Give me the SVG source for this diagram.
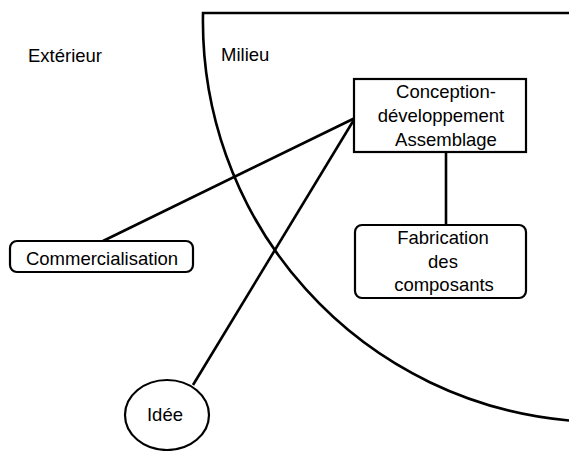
<svg xmlns="http://www.w3.org/2000/svg" width="569" height="451" viewBox="0 0 569 451">
<style>
text{font-family:"Liberation Sans",Arial,sans-serif;font-size:18.5px;fill:#000;text-anchor:middle}
.b{fill:#fff;stroke:#000;stroke-width:2.2}
.c{stroke:#000;stroke-width:2.6;fill:none}
</style>
<rect width="569" height="451" fill="#fff"/>
<g id="milieu-boundary">
<path class="c" d="M569 13 H203 A401 401 0 0 0 569 420.5" stroke-width="2.8"/>
<text x="28" y="62" style="text-anchor:start">Extérieur</text>
<text x="221" y="61" style="text-anchor:start">Milieu</text>
</g>
<g id="connectors">
<line class="c" x1="103" y1="241" x2="355" y2="118"/>
<line class="c" x1="193" y1="385" x2="355" y2="118"/>
<line class="c" x1="446" y1="152" x2="446" y2="225" stroke-width="2"/>
</g>
<g id="conception">
<rect class="b" x="354" y="79" width="172" height="73"/>
<text x="446" y="98">Conception-</text>
<text x="441" y="122">développement</text>
<text x="446" y="146">Assemblage</text>
</g>
<g id="fabrication">
<rect class="b" x="355" y="225" width="171" height="73" rx="7"/>
<text x="443" y="244">Fabrication</text>
<text x="443" y="268">des</text>
<text x="444" y="291">composants</text>
</g>
<g id="commercialisation">
<rect class="b" x="10" y="241" width="183" height="31" rx="7"/>
<text x="102" y="265">Commercialisation</text>
</g>
<g id="idee">
<ellipse class="b" cx="167" cy="415" rx="42" ry="35"/>
<text x="165" y="421">Idée</text>
</g>
</svg>
